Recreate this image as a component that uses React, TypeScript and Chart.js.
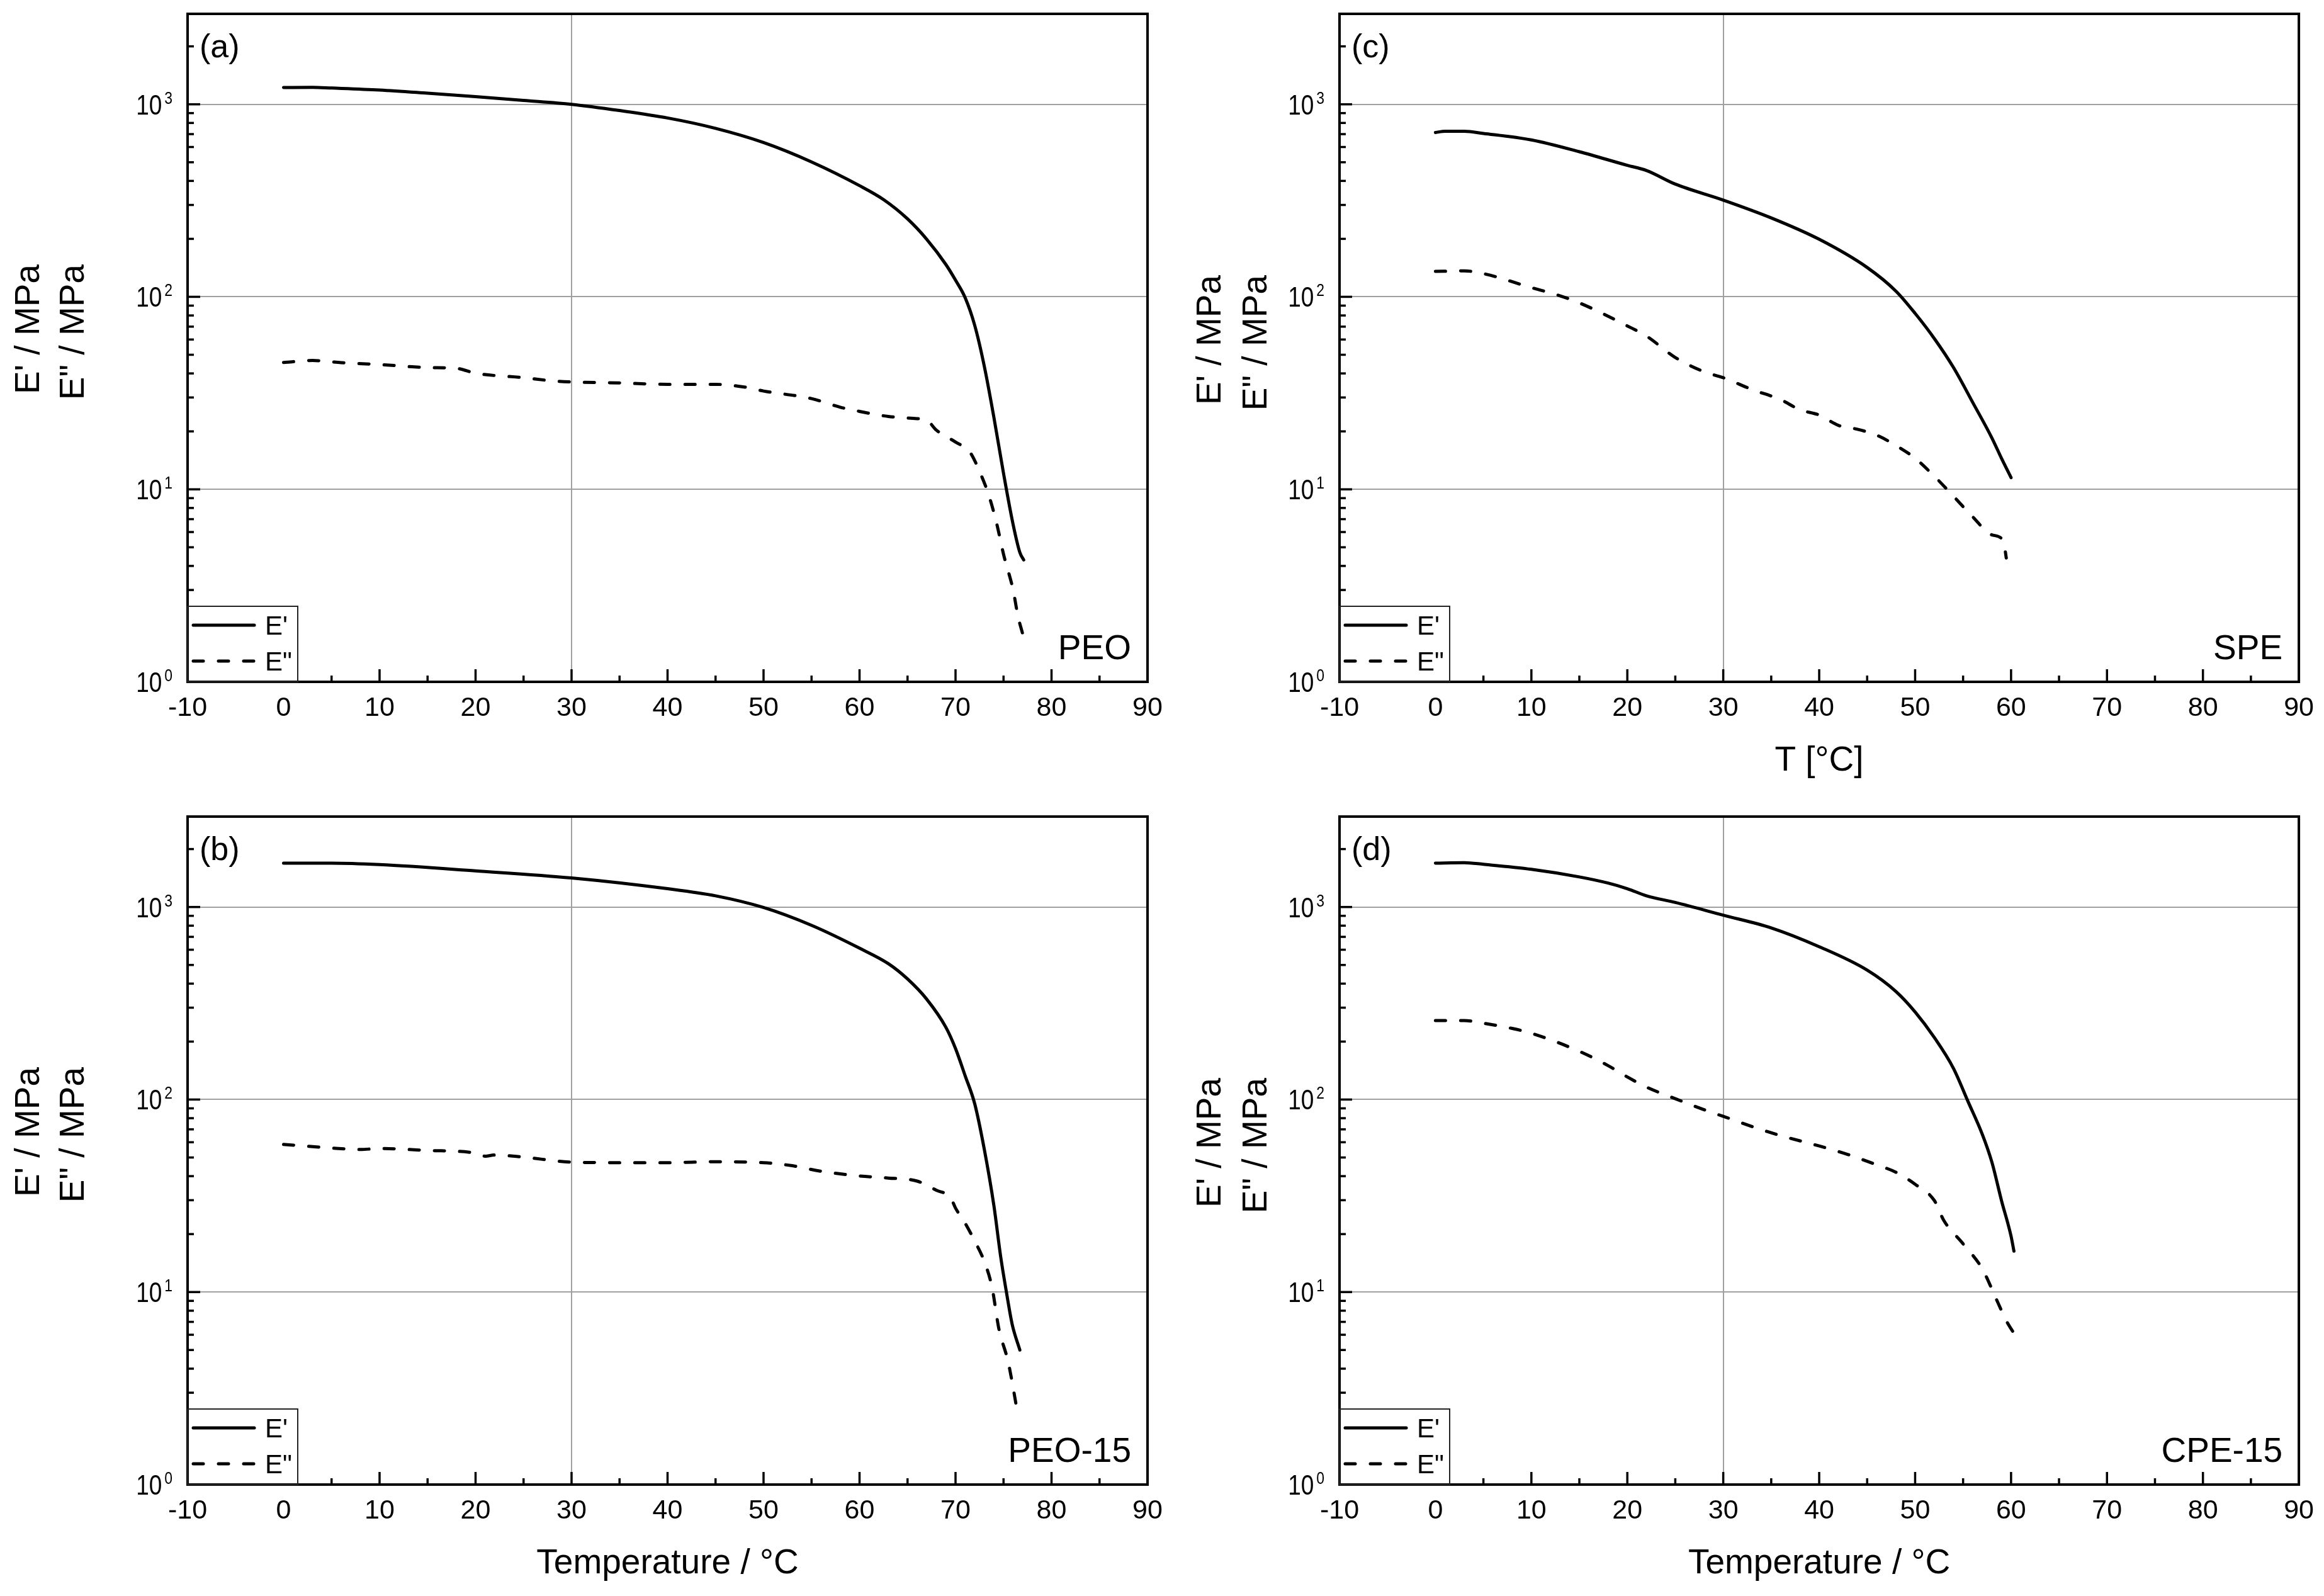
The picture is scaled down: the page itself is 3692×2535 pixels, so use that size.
import React, { useEffect, useRef } from "react";
import { Chart, registerables } from "chart.js";

Chart.register(...registerables);

// ---------------- data ----------------
// (a) PEO
const PEO_EP_T = [0, 3, 5, 10, 15, 20, 25, 30, 35, 40, 45, 50, 55, 60, 62.5, 65, 67, 69, 70, 71, 72, 73, 74, 75, 76, 76.7, 77.1];
const PEO_EP_V = [1222, 1225, 1215, 1186, 1142, 1096, 1048, 1000, 928, 849, 750, 633, 502, 378, 320, 254, 199, 147, 122, 99, 71, 43.5, 23.6, 12.1, 6.56, 4.7, 4.3];
const PEO_EPP_T = [0, 3, 6, 10, 15, 18, 20, 25, 28, 30, 35, 40, 45, 48, 50, 55, 58, 60, 63, 66, 67, 68, 70, 71.5, 72.5, 73.5, 74.3, 75, 76, 76.5, 77];
const PEO_EPP_V = [45.6, 46.7, 45.5, 44.5, 42.9, 42.5, 40.1, 38, 36.6, 36.1, 35.7, 35.1, 35.1, 34, 32.4, 29.6, 26.7, 25.4, 23.9, 23.3, 22.9, 20.3, 17.6, 15.6, 12.4, 9.2, 6.6, 4.6, 3.0, 2.2, 1.77];

// (b) PEO-15
const PEO15_EP_T = [0, 5, 10, 20, 30, 40, 45, 50, 55, 60, 63, 65, 67, 69, 70, 71, 72, 73, 74, 74.7, 75.3, 75.9, 76.7];
const PEO15_EP_V = [1690, 1690, 1660, 1541, 1416, 1245, 1143, 994, 803, 611, 508, 423, 332, 237, 184, 133, 95, 55, 28, 15.3, 10, 6.8, 5.0];
const PEO15_EPP_T = [0, 5, 8, 10, 15, 20, 21, 22, 25, 30, 35, 40, 45, 50, 53, 56, 60, 63, 66, 68, 69.5, 70, 71, 72, 73, 73.8, 74.5, 75.5, 76.5];
const PEO15_EPP_V = [58.5, 56, 55, 55.7, 54.4, 52.7, 50.8, 51.5, 50.2, 47.3, 47, 47, 47.5, 47, 45.3, 42.4, 40.1, 39.1, 37.7, 33.8, 30.8, 27.3, 22.8, 18.4, 14.4, 10.6, 6.5, 4.3, 2.3];

// (c) SPE
const SPE_EP_T = [0, 1, 3, 5, 10, 15, 20, 22, 25, 30, 35, 40, 45, 48, 50, 52, 54, 56, 58, 59, 60];
const SPE_EP_V = [714, 724, 724, 706, 653, 567, 482, 453, 385, 318, 257, 199, 142, 107, 82, 60.7, 42.9, 28.3, 18.5, 14.5, 11.5];
const SPE_EPP_T = [0, 3, 5, 10, 12.5, 15, 20, 22, 25, 28, 30, 33, 36, 38, 40, 42, 44, 46, 48, 50, 52, 54, 56, 58, 59.2, 59.5];
const SPE_EPP_V = [135.5, 136.4, 132, 111.6, 103, 93, 70.6, 62.5, 48.4, 40.8, 38, 33, 29.2, 25.9, 24.3, 21.5, 20.5, 19.1, 16.9, 14.5, 11.7, 9.2, 7.2, 5.8, 5.4, 4.4];

// (d) CPE-15
const CPE15_EP_T = [0, 3, 5, 10, 15, 18, 20, 22, 25, 30, 35, 40, 45, 48, 50, 52, 54, 55.5, 57, 58, 59, 60, 60.3];
const CPE15_EP_V = [1690, 1700, 1667, 1570, 1433, 1331, 1245, 1143, 1056, 907, 779, 622, 470, 364, 285, 210, 145, 98, 66, 47.3, 29.9, 19.5, 16.3];
const CPE15_EPP_T = [0, 3, 5, 8, 10, 15, 18, 20, 22, 25, 28, 30, 33, 36, 40, 43, 46, 48, 50, 52, 53, 55, 57, 58.5, 59.5, 60.3];
const CPE15_EPP_V = [257, 257, 249, 234, 221, 178, 150, 131, 116, 101, 88.5, 81.8, 72.4, 64.9, 57.4, 51.8, 45.8, 41.9, 36.3, 29.9, 23.5, 17.8, 13.2, 9.1, 7.1, 6.1];

// axes
const X_MIN = -10;
const X_MAX = 90;
const X_STEP = 10;
const X_GRID_AT = [30];
const Y_MIN = 1;
const Y_MAX = 2950;
const Y_DECADES = [1, 10, 100, 1000];
const Y_EXPONENTS = ["0", "1", "2", "3"];
const SERIES_NAMES = ["E'", 'E"'];
const Y_TITLES = ["E' / MPa", 'E" / MPa'];

// ---------------- layout ----------------
const FONT = "'Liberation Sans', Arial, Helvetica, sans-serif";
const PAGE_W = 3692;
const PAGE_H = 2535;
const Y_BOX = 100;
const X_BOX = 100;

type PanelDef = {
  key: string;
  cv: { x: number; y: number; w: number; h: number };
  area: { l: number; t: number; r: number; b: number };
  label: string;
  sample: string;
  xTitle: string | null;
  titleCols: number[];
  titleEnd: number;
  ep: [number[], number[]];
  epp: [number[], number[]];
};

const PANELS: PanelDef[] = [
  {
    key: "a",
    cv: { x: 0, y: 0, w: 1950, h: 1268 },
    area: { l: 298, t: 22, r: 1823, b: 1083 },
    label: "(a)",
    sample: "PEO",
    xTitle: null,
    titleCols: [-251, -180],
    titleEnd: 398,
    ep: [PEO_EP_T, PEO_EP_V],
    epp: [PEO_EPP_T, PEO_EPP_V],
  },
  {
    key: "c",
    cv: { x: 1846, y: 0, w: 1846, h: 1268 },
    area: { l: 2128, t: 22, r: 3653, b: 1083 },
    label: "(c)",
    sample: "SPE",
    xTitle: "T [°C]",
    titleCols: [-204, -131],
    titleEnd: 415,
    ep: [SPE_EP_T, SPE_EP_V],
    epp: [SPE_EPP_T, SPE_EPP_V],
  },
  {
    key: "b",
    cv: { x: 0, y: 1268, w: 1950, h: 1267 },
    area: { l: 298, t: 1297, r: 1823, b: 2358 },
    label: "(b)",
    sample: "PEO-15",
    xTitle: "Temperature / °C",
    titleCols: [-251, -180],
    titleEnd: 398,
    ep: [PEO15_EP_T, PEO15_EP_V],
    epp: [PEO15_EPP_T, PEO15_EPP_V],
  },
  {
    key: "d",
    cv: { x: 1846, y: 1268, w: 1846, h: 1267 },
    area: { l: 2128, t: 1297, r: 3653, b: 2358 },
    label: "(d)",
    sample: "CPE-15",
    xTitle: "Temperature / °C",
    titleCols: [-204, -131],
    titleEnd: 415,
    ep: [CPE15_EP_T, CPE15_EP_V],
    epp: [CPE15_EPP_T, CPE15_EPP_V],
  },
];

const DASH = [16, 24];
const LINE_W = 5;

function toPoints(ts: number[], vs: number[]) {
  return ts.map((t, i) => ({ x: t, y: vs[i] }));
}

function squeezedText(ctx: CanvasRenderingContext2D, text: string, x: number, y: number, sx: number, align: CanvasTextAlign) {
  ctx.save();
  ctx.translate(x, y);
  ctx.scale(sx, 1);
  ctx.textAlign = align;
  ctx.fillText(text, 0, 0);
  ctx.restore();
}

function makeDecor(p: PanelDef) {
  return {
    id: "decor_" + p.key,
    afterDraw(chart: any) {
      const ctx: CanvasRenderingContext2D = chart.ctx;
      const { left: L, right: R, top: T, bottom: B } = chart.chartArea;
      const xs = chart.scales.x;
      const ys = chart.scales.y;
      ctx.save();
      ctx.fillStyle = "#000";
      ctx.strokeStyle = "#000";

      // x ticks (inward)
      ctx.lineWidth = 3.5;
      ctx.lineCap = "butt";
      for (let v = X_MIN + 5; v < X_MAX; v += 5) {
        const px = xs.getPixelForValue(v);
        const len = v % 10 === 0 ? 20 : 10;
        ctx.beginPath();
        ctx.moveTo(px, B);
        ctx.lineTo(px, B - len);
        ctx.stroke();
      }
      // y ticks (inward)
      for (let d = 0; d < Y_DECADES.length; d++) {
        const base = Y_DECADES[d];
        for (let m = 1; m <= 9; m++) {
          const v = base * m;
          if (v <= Y_MIN || v >= Y_MAX) continue;
          const py = ys.getPixelForValue(v);
          const len = m === 1 ? 20 : 10;
          ctx.beginPath();
          ctx.moveTo(L, py);
          ctx.lineTo(L + len, py);
          ctx.stroke();
        }
      }

      // frame
      ctx.lineWidth = 4;
      ctx.lineJoin = "miter";
      ctx.strokeRect(L, T, R - L, B - T);

      // y tick labels 10^n
      ctx.textBaseline = "alphabetic";
      for (let i = 0; i < Y_DECADES.length; i++) {
        const py = ys.getPixelForValue(Y_DECADES[i]);
        const supRight = L - 24;
        ctx.font = `27px ${FONT}`;
        const sw = ctx.measureText(Y_EXPONENTS[i]).width * 0.85;
        squeezedText(ctx, Y_EXPONENTS[i], supRight, py - 1, 0.85, "right");
        ctx.font = `44px ${FONT}`;
        squeezedText(ctx, "10", supRight - sw - 4, py + 16, 0.84, "right");
      }

      // y titles (rotated, two lines)
      ctx.font = `55px ${FONT}`;
      ctx.textBaseline = "middle";
      for (let i = 0; i < Y_TITLES.length; i++) {
        ctx.save();
        ctx.translate(L + p.titleCols[i], T + p.titleEnd);
        ctx.rotate(-Math.PI / 2);
        ctx.textAlign = "right";
        ctx.fillText(Y_TITLES[i], 0, 0);
        ctx.restore();
      }

      // x title
      if (p.xTitle) {
        ctx.font = `55px ${FONT}`;
        ctx.textAlign = "center";
        ctx.textBaseline = "middle";
        ctx.fillText(p.xTitle, (L + R) / 2, B + 126);
      }

      // panel label
      ctx.font = `52px ${FONT}`;
      ctx.textAlign = "left";
      ctx.textBaseline = "alphabetic";
      ctx.fillText(p.label, L + 19, T + 69);

      // sample name
      ctx.font = `55px ${FONT}`;
      ctx.textAlign = "right";
      ctx.fillText(p.sample, R - 26, B - 36);

      // legend box
      const lw = 175;
      const lh = 120;
      ctx.fillStyle = "#fff";
      ctx.fillRect(L + 2, B - lh, lw - 2, lh - 2);
      ctx.strokeStyle = "#222";
      ctx.lineWidth = 2;
      ctx.strokeRect(L, B - lh, lw, lh);
      ctx.strokeStyle = "#000";
      ctx.lineWidth = LINE_W;
      ctx.lineCap = "round";
      const rows = [B - 90, B - 33];
      for (let i = 0; i < 2; i++) {
        ctx.setLineDash(i === 0 ? [] : DASH);
        ctx.beginPath();
        ctx.moveTo(L + 9, rows[i]);
        ctx.lineTo(L + 106, rows[i]);
        ctx.stroke();
      }
      ctx.setLineDash([]);
      ctx.fillStyle = "#000";
      ctx.font = `42px ${FONT}`;
      ctx.textAlign = "left";
      ctx.textBaseline = "alphabetic";
      for (let i = 0; i < 2; i++) {
        ctx.fillText(SERIES_NAMES[i], L + 123, rows[i] + 15);
      }
      ctx.restore();
    },
  };
}

function Panel({ p }: { p: PanelDef }) {
  const ref = useRef<HTMLCanvasElement | null>(null);
  useEffect(() => {
    const canvas = ref.current;
    if (!canvas) return;
    const pad = {
      left: p.area.l - p.cv.x - Y_BOX,
      top: p.area.t - p.cv.y,
      right: p.cv.x + p.cv.w - p.area.r,
      bottom: p.cv.y + p.cv.h - p.area.b - X_BOX,
    };
    const chart = new Chart(canvas, {
      type: "line",
      data: {
        datasets: [
          {
            label: SERIES_NAMES[0],
            data: toPoints(p.ep[0], p.ep[1]),
            borderColor: "#000",
            backgroundColor: "#000",
            borderWidth: LINE_W,
            pointRadius: 0,
            fill: false,
            cubicInterpolationMode: "monotone",
            borderJoinStyle: "round",
            borderCapStyle: "round",
          },
          {
            label: SERIES_NAMES[1],
            data: toPoints(p.epp[0], p.epp[1]),
            borderColor: "#000",
            backgroundColor: "#000",
            borderWidth: LINE_W,
            borderDash: DASH,
            pointRadius: 0,
            fill: false,
            cubicInterpolationMode: "monotone",
            borderJoinStyle: "round",
            borderCapStyle: "round",
          },
        ],
      },
      options: {
        animation: false,
        responsive: false,
        devicePixelRatio: 1,
        events: [],
        layout: { padding: pad },
        plugins: { legend: { display: false }, tooltip: { enabled: false } },
        scales: {
          x: {
            type: "linear",
            min: X_MIN,
            max: X_MAX,
            afterFit: (s: any) => {
              s.height = X_BOX;
            },
            border: { display: false },
            grid: {
              drawTicks: false,
              lineWidth: 2,
              color: (c: any) => (c.tick && X_GRID_AT.includes(c.tick.value) ? "#a0a0a0" : "rgba(0,0,0,0)"),
            },
            ticks: {
              stepSize: X_STEP,
              autoSkip: false,
              maxRotation: 0,
              padding: 16,
              color: "#000",
              font: { family: FONT, size: 43 },
            },
          },
          y: {
            type: "logarithmic",
            min: Y_MIN,
            max: Y_MAX,
            afterFit: (s: any) => {
              s.width = Y_BOX;
            },
            afterBuildTicks: (s: any) => {
              s.ticks = Y_DECADES.map((v) => ({ value: v }));
            },
            border: { display: false },
            grid: {
              drawTicks: false,
              lineWidth: 2,
              color: (c: any) => (c.tick && c.tick.value > Y_MIN ? "#a0a0a0" : "rgba(0,0,0,0)"),
            },
            ticks: { display: false },
          },
        },
      },
      plugins: [makeDecor(p)],
    } as any);
    return () => chart.destroy();
  }, [p]);
  return (
    <canvas
      ref={ref}
      width={p.cv.w}
      height={p.cv.h}
      style={{ position: "absolute", left: p.cv.x, top: p.cv.y, width: p.cv.w, height: p.cv.h }}
    />
  );
}

export default function App() {
  return (
    <div
      style={{
        position: "absolute",
        left: 0,
        top: 0,
        width: PAGE_W,
        height: PAGE_H,
        overflow: "hidden",
        background: "#fff",
      }}
    >
      {PANELS.map((p) => (
        <Panel key={p.key} p={p} />
      ))}
    </div>
  );
}
